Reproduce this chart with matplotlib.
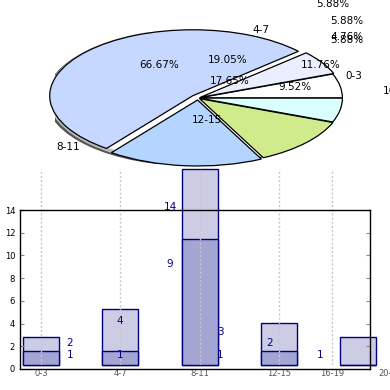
import matplotlib.pyplot as plt
from matplotlib.patches import Ellipse

# pie data (age groups)
pie_labels = ['0-3', '4-7', '8-11', '12-15', '16-19', '20-']
pie_counts = [1, 1, 9, 3, 2, 1]
pie_colors = ['#ffffff', '#e9effe', '#c6d8ff', '#b3d5ff', '#d0eb8c', '#d9ffff']
pie_explode = [0.01, 0.02, 0.05, 0.03, 0.015, 0.01]

# texts drawn around the pie (as in the source picture)
pie_texts = ['52.94%', '5.88%', '5.88%', '4.76%', '5.88%', '4-7', '0-3', '16-19',
             '8-11', '12-15', '66.67%', '19.05%', '17.65%', '11.76%', '9.52%']
pie_text_xy = [(-0.27, 1.53), (0.94, 1.42), (1.04, 1.17), (1.04, 0.92), (1.04, 0.88),
               (0.44, 1.03), (1.09, 0.33), (1.29, 0.11), (-0.91, -0.74), (0.06, -0.33),
               (-0.27, 0.5), (0.21, 0.58), (0.22, 0.26), (0.86, 0.5), (0.68, 0.17)]

# bar data
bar_cats = ['0-3', '4-7', '8-11', '12-15', '16-19', '20-']
bar_tick_pos = [0, 1, 2, 3, 3.67, 4.34]
bar_x = [0, 1, 2, 3, 4]
bar_light = [2, 4, 14, 3, 2]
bar_dark = [1, 1, 9, 1, 0]

# value labels
lab_x = [0, 1, 2, 3, 4, 5]
lab_upper = [2, 4, 14, 3, 2, 1]
lab_lower = [1, 1, 9, 1]

W = 390.0
fig = plt.figure(figsize=(3.9, 3.9), dpi=100)

# ---- bars (own scale) ----
ax2 = fig.add_axes([20 / W, 25 / W, 380 / W, 196 / W])
ax2.set_xlim(-0.265, 4.527)
ax2.set_ylim(0, 14)
ax2.bar(bar_x, bar_light, width=0.455, color='#ccccE5', edgecolor='#000080',
        linewidth=1, clip_on=False, zorder=2)
ax2.bar(bar_x, bar_dark, width=0.455, color='#a3a5d3', edgecolor='#000080',
        linewidth=1, clip_on=False, zorder=2)
ax2.vlines(bar_tick_pos[:5], 0, 14, colors='#c8c8c8', linestyles=(0, (1.5, 1.5)),
           linewidth=1, zorder=3)
ax2.set_xticks(bar_tick_pos)
ax2.set_xticklabels(bar_cats, fontsize=6, color='#555555')
ax2.tick_params(axis='x', length=0, pad=3)
ax2.set_yticks([])
for s in ax2.spines.values():
    s.set_visible(False)
ax2.patch.set_alpha(0)

# ---- main frame ----
ax1 = fig.add_axes([20 / W, 21 / W, 350 / W, 159 / W])
ax1.patch.set_alpha(0)
ax1.set_xlim(-1, 6)
ax1.set_ylim(0, 14)
ax1.set_yticks(range(0, 15, 2))
ax1.set_xticks([])
ax1.tick_params(axis='y', direction='in', right=True, labelsize=6, length=3, color='#888888')
for s in ax1.spines.values():
    s.set_linewidth(1)
for x, v in zip(lab_x, lab_upper):
    ax1.text(x, v + 0.25, str(v), ha='center', va='center', fontsize=7.5, color='#00008b', clip_on=False)
for x, v in zip(lab_x, lab_lower):
    ax1.text(x, v + 0.25, str(v), ha='center', va='center', fontsize=7.5, color='#00008b', clip_on=False)

# ---- pie ----
ax3 = fig.add_axes([55 / W, 226 / W, 286 / W, 132 / W])
# thin shadow rim under the disc
ax3.add_patch(Ellipse((-0.045, 0.0), 2.03, 2.04, color='#555555', zorder=0))
ax3.add_patch(Ellipse((-0.03, 0.02), 2.03, 2.04, color='#bbbbbb', zorder=0))
ax3.add_patch(Ellipse((0, 0.035), 2.0, 2.0, color='white', zorder=1))
wedges, _ = ax3.pie(pie_counts, colors=pie_colors, explode=pie_explode, startangle=0,
                    counterclock=True, wedgeprops=dict(edgecolor='black', linewidth=0.9))
for w in wedges:
    w.set_zorder(2)
ax3.set_aspect('auto')
ax3.set_xlim(-1, 1)
ax3.set_ylim(-1, 1)
ax3.axis('off')
for t, (x, y) in zip(pie_texts, pie_text_xy):
    ha = 'left' if t == '16-19' else 'center'
    ax3.text(x, y, t, ha=ha, va='center', fontsize=7.5, clip_on=False, zorder=5)

fig.savefig('out.png', dpi=100)
